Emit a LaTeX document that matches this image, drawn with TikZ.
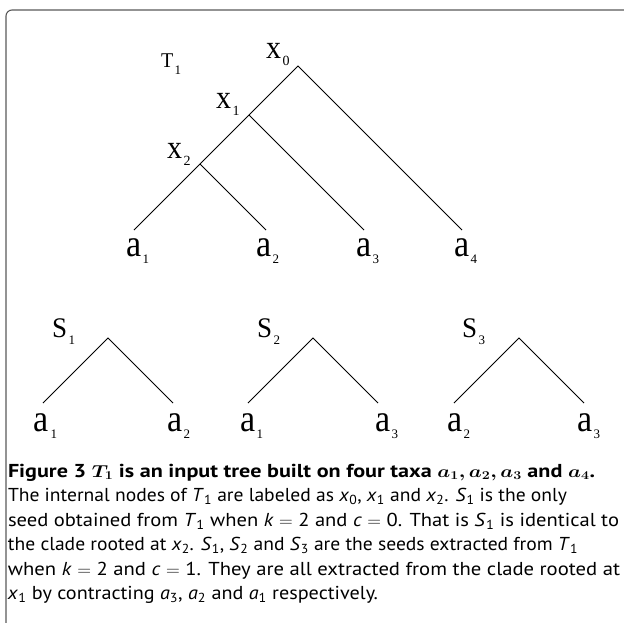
\documentclass[tikz,border=0pt]{standalone}
\usepackage{fontspec}
\usepackage{bm}
\setmainfont{PT Sans}
\newfontfamily\labfont{Liberation Serif}
\tikzset{
  edge/.style={draw=black, line width=0.9pt, line join=miter},
  lab/.style={anchor=base west, inner sep=0pt, outer sep=0pt, font=\labfont},
  capline/.style={anchor=base west, inner sep=0pt, outer sep=0pt, font=\fontsize{18.7}{22}\selectfont},
  frame/.style={draw=black!65, line width=1.1pt, rounded corners=6pt}
}
\newcommand\tl[5]{\scalebox{1}[#2]{\fontsize{#1pt}{#1pt}\selectfont #3}\kern1.5pt\raisebox{-7pt}{\fontsize{#4pt}{#4pt}\selectfont #5}}
\newcommand\mi[2]{\textit{#1}\textsubscript{#2}}
\newcommand\eq{\ $=$\ }
\newcommand\cl[2]{\resizebox{#1pt}{\height}{#2}}
\begin{document}
\begin{tikzpicture}[x=1pt,y=-1pt]
\useasboundingbox (0,0) rectangle (624,622);
\draw[frame] (660,10) -- (6,10) -- (6,660);
% main tree T1
\coordinate (x0) at (298,66);
\coordinate (x1) at (249,115);
\coordinate (x2) at (200,164);
\coordinate (l1) at (134,230);
\coordinate (l2) at (266,230);
\coordinate (l3) at (364,230);
\coordinate (l4) at (462,230);
\draw[edge] (l1) -- (x2) -- (x1) -- (x0) -- (l4);
\draw[edge] (x2) -- (l2);
\draw[edge] (x1) -- (l3);
\node[lab] (T1) at (161,67) {\tl{20}{1.05}{T}{13}{1}};
\node[lab] (X0) at (266,58) {\tl{30}{1.1}{x}{14}{0}};
\node[lab] (X1) at (216,108) {\tl{30}{1.1}{x}{14}{1}};
\node[lab] (X2) at (167,158) {\tl{30}{1.1}{x}{14}{2}};
\node[lab] (A1) at (126,256) {\tl{34}{1.12}{a}{13}{1}};
\node[lab] (A2) at (256,256) {\tl{34}{1.12}{a}{13}{2}};
\node[lab] (A3) at (356,256) {\tl{34}{1.12}{a}{13}{3}};
\node[lab] (A4) at (454,256) {\tl{34}{1.12}{a}{13}{4}};
% seeds
\coordinate (s1) at (108,338);
\coordinate (s1l) at (43,403);
\coordinate (s1r) at (173,403);
\coordinate (s2) at (313,338);
\coordinate (s2l) at (248,403);
\coordinate (s2r) at (378,403);
\coordinate (s3) at (519,338);
\coordinate (s3l) at (454,403);
\coordinate (s3r) at (584,403);
\draw[edge] (s1l) -- (s1) -- (s1r);
\draw[edge] (s2l) -- (s2) -- (s2r);
\draw[edge] (s3l) -- (s3) -- (s3r);
\node[lab] (S1) at (52,337) {\tl{27}{1.05}{S}{13}{1}};
\node[lab] (S2) at (257,337) {\tl{27}{1.05}{S}{13}{2}};
\node[lab] (S3) at (462,337) {\tl{27}{1.05}{S}{13}{3}};
\node[lab] (B1) at (34,431) {\tl{34}{1.12}{a}{13}{1}};
\node[lab] (B2) at (167,431) {\tl{34}{1.12}{a}{13}{2}};
\node[lab] (B3) at (240,431) {\tl{34}{1.12}{a}{13}{1}};
\node[lab] (B4) at (375,431) {\tl{34}{1.12}{a}{13}{3}};
\node[lab] (B5) at (447,431) {\tl{34}{1.12}{a}{13}{2}};
\node[lab] (B6) at (577,431) {\tl{34}{1.12}{a}{13}{3}};
% caption
\node[capline] (c1) at (8,477) {\cl{587}{\textbf{Figure 3 $\bm{T_1}$ is an input tree built on four taxa $\bm{a_1, a_2, a_3}$ and $\bm{a_4}$.}}};
\node[capline] (c2) at (8,501.5) {\cl{559}{The internal nodes of \mi{T}{1} are labeled as \mi{x}{0}, \mi{x}{1} and \mi{x}{2}. \mi{S}{1} is the only}};
\node[capline] (c3) at (8,526) {\cl{611}{seed obtained from \mi{T}{1} when \textit{k}\eq 2 and \textit{c}\eq 0. That is \mi{S}{1} is identical to}};
\node[capline] (c4) at (8,550.5) {\cl{570}{the clade rooted at \mi{x}{2}. \mi{S}{1}, \mi{S}{2} and \mi{S}{3} are the seeds extracted from \mi{T}{1}}};
\node[capline] (c5) at (8,575) {\cl{612}{when \textit{k}\eq 2 and \textit{c}\eq 1. They are all extracted from the clade rooted at}};
\node[capline] (c6) at (8,599.5) {\cl{370}{\mi{x}{1} by contracting \mi{a}{3}, \mi{a}{2} and \mi{a}{1} respectively.}};
\end{tikzpicture}
\end{document}
